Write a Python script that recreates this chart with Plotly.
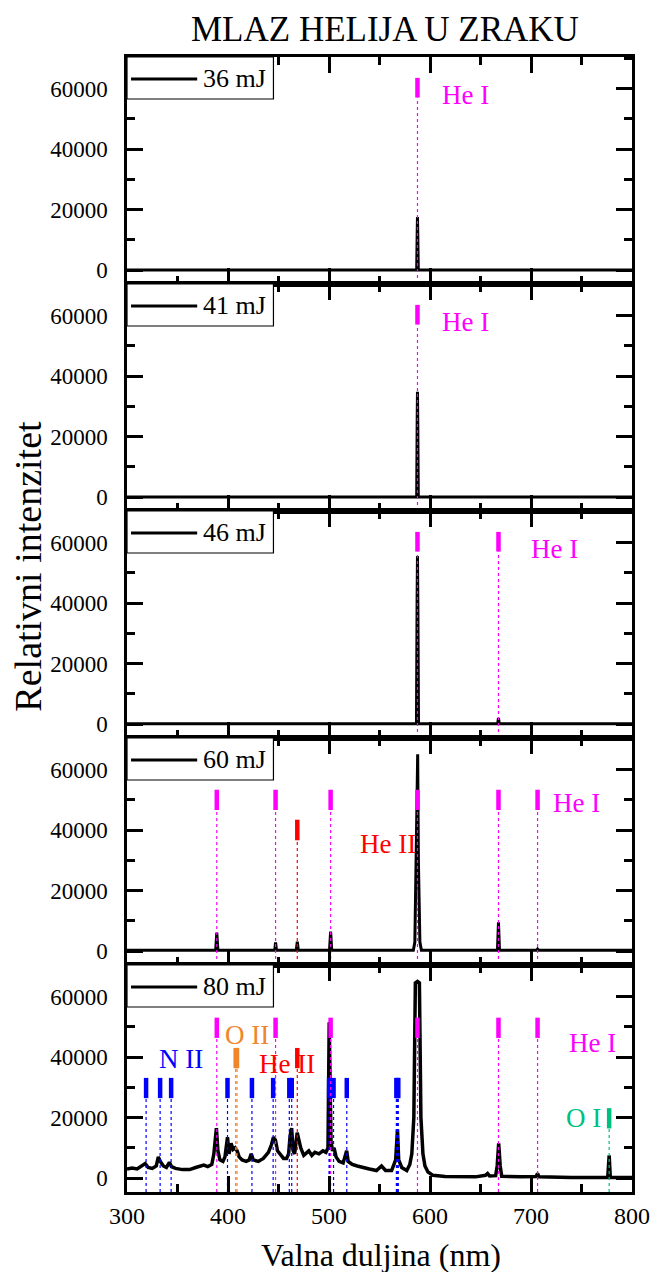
import plotly.graph_objects as go
from plotly.subplots import make_subplots

# ---------------- data ----------------
energies = ["36 mJ", "41 mJ", "46 mJ", "60 mJ", "80 mJ"]

wl_36 = [300, 400, 500, 586.8, 587.3, 587.6, 587.9, 588.4, 700, 800]
int_36 = [0, 0, 0, 0, 12000, 17500, 12000, 0, 0, 0]

wl_41 = [300, 400, 500, 586.8, 587.3, 587.6, 587.9, 588.4, 700, 800]
int_41 = [0, 0, 0, 0, 25000, 34800, 25000, 0, 0, 0]

wl_46 = [300, 400, 500, 586.6, 587.2, 587.6, 588.0, 588.6, 667.0, 667.8, 668.6, 800]
int_46 = [100, 100, 100, 100, 40000, 55500, 40000, 100, 100, 2000, 100, 100]

wl_60 = [300, 350, 387.8, 388.9, 390.0, 420, 446.3, 447.1, 448.0, 467.6, 468.6, 469.6,
         500.5, 501.6, 502.7, 550, 583.5, 585.0, 586.3, 587.2, 587.8, 588.5, 590.0, 591.5,
         640, 666.8, 667.8, 668.8, 705.5, 706.5, 707.5, 760, 800]
int_60 = [300, 300, 300, 6100, 300, 300, 300, 2900, 300, 300, 3100, 300,
          300, 6400, 300, 300, 300, 3000, 30000, 64000, 65000, 30000, 3000, 300,
          300, 300, 9500, 300, 300, 700, 300, 300, 300]

wl_80 = [300, 305, 310, 314, 318, 321, 325, 329, 331, 333, 336, 339, 342, 344, 348, 355,
         362, 368, 372, 376, 380, 384, 386, 388.5, 390, 392, 395, 397, 399.5, 401, 403,
         405, 407, 409, 411, 414, 418, 421, 423, 425, 430, 435, 440, 443, 445, 447, 449,
         452, 455, 458, 460, 461.5, 463, 464.5, 466, 468.5, 470, 472, 475, 478, 480, 483,
         486, 490, 494, 497, 499, 500.2, 501, 502, 503.5, 505, 507, 510, 514, 517.5, 519,
         523, 528, 533, 540, 547, 552, 556, 562, 566, 567.8, 569, 572, 577, 580, 582, 584,
         585.5, 587.6, 589.5, 591, 593, 595, 598, 603, 615, 630, 645, 655, 657, 659, 665,
         666.5, 668, 669.5, 671, 690, 705, 706.5, 708, 740, 770, 776, 777.4, 778.5, 790, 800]
int_80 = [3000, 3300, 3000, 3800, 4800, 3500, 3200, 4000, 7000, 5500, 4000, 3500, 5200, 3800, 3200, 2800,
          2800, 3500, 4000, 4300, 3800, 4500, 8000, 16500, 9000, 6000, 5500, 7000, 13500, 8000, 11500,
          9500, 10000, 9000, 7000, 6000, 5500, 6000, 8000, 6000, 5500, 6500, 8500, 11000, 13500, 12500, 9000,
          7500, 6500, 6500, 8000, 14000, 16500, 9000, 8000, 15000, 13000, 10000, 7500, 8500, 9000, 7500,
          8500, 8000, 9000, 8500, 10000, 51500, 30000, 12000, 9000, 10000, 7000, 5500, 5000, 9000, 5500,
          4500, 4000, 3500, 3000, 2500, 4000, 2500, 2500, 6000, 16000, 6000, 3500, 2500, 4500, 8000, 20000,
          64500, 65000, 64500, 20000, 8000, 4000, 2000, 900, 500, 400, 400, 900, 1500, 700, 800,
          4000, 11500, 4000, 600, 400, 500, 1500, 400, 200, 200, 300, 7500, 300, 200, 200]

spectra_wl = [wl_36, wl_41, wl_46, wl_60, wl_80]
spectra_int = [int_36, int_41, int_46, int_60, int_80]

he1_lines = [388.9, 447.1, 501.6, 587.6, 667.8, 706.5]
he2_lines = [468.6]
o2_lines = [407.6, 408.9]
n2_lines = [318.9, 332.8, 343.7, 399.5, 423.7, 444.7, 460.7, 463.1,
            500.1, 500.5, 501.1, 504.5, 517.6, 566.7, 567.9, 568.6]
o1_lines = [777.4]

# ---------------- styling of the line markers ----------------
MAGENTA = "#FF00FF"
RED = "#FF0000"
ORANGE = "#F0862C"
BLUE = "#0000FF"
GREEN = "#00C080"
YMIN, YMAX = -4600, 70400

# (lines, color, marker bottom, marker top) per panel
panel_markers = [
    [([587.6], MAGENTA, 57000, 63500)],
    [([587.6], MAGENTA, 57000, 63500)],
    [([587.6, 667.8], MAGENTA, 57000, 63500)],
    [(he1_lines, MAGENTA, 46600, 53300), (he2_lines, RED, 36600, 43400)],
    [(n2_lines, BLUE, 26400, 33100), (o2_lines, ORANGE, 36300, 43000),
     (he2_lines, RED, 36300, 43000), (he1_lines, MAGENTA, 46300, 53000),
     (o1_lines, GREEN, 16400, 23100)],
]

# (text, x, y, color) per panel
panel_labels = [
    [("He I", 635, 58000, MAGENTA)],
    [("He I", 635, 58000, MAGENTA)],
    [("He I", 723, 58000, MAGENTA)],
    [("He I", 745, 48800, MAGENTA), ("He II", 558, 35500, RED)],
    [("He I", 761, 44700, MAGENTA), ("He II", 458.6, 37600, RED),
     ("N II", 353.7, 39200, BLUE), ("O II", 418.6, 47300, ORANGE), ("O I", 752, 20000, GREEN)],
]

FONT = "Liberation Serif"

fig = make_subplots(rows=5, cols=1, shared_xaxes=True, vertical_spacing=0)

for i in range(5):
    row = i + 1
    fig.add_trace(go.Scatter(x=spectra_wl[i], y=spectra_int[i], mode="lines",
                             line=dict(color="black", width=3.5 if row == 5 else 3),
                             showlegend=False, hoverinfo="skip"), row=row, col=1)
    for lines, color, ybot, ytop in panel_markers[i]:
        dx, dy, mx, my = [], [], [], []
        for w in lines:
            dx += [w, w, None]
            dy += [YMIN, ybot, None]
            mx += [w, w, None]
            my += [ybot, ytop, None]
        fig.add_trace(go.Scatter(x=dx, y=dy, mode="lines",
                                 line=dict(color=color, width=1.2, dash="dot"),
                                 showlegend=False, hoverinfo="skip"), row=row, col=1)
        fig.add_trace(go.Scatter(x=mx, y=my, mode="lines",
                                 line=dict(color=color, width=4.5),
                                 showlegend=False, hoverinfo="skip"), row=row, col=1)
    xr = "x" if row == 1 else f"x{row}"
    yr = "y" if row == 1 else f"y{row}"
    for text, lx, ly, color in panel_labels[i]:
        fig.add_annotation(x=lx, y=ly, xref=xr, yref=yr, text=text, showarrow=False,
                           xanchor="center", yanchor="middle",
                           font=dict(family=FONT, size=27, color=color))
    # legend box
    fig.add_shape(type="rect", xref=f"{xr} domain", yref=f"{yr} domain",
                  x0=0, x1=0.29, y0=0.815, y1=1.0,
                  line=dict(color="black", width=1.2), fillcolor="white", layer="above")
    fig.add_shape(type="line", xref=f"{xr} domain", yref=f"{yr} domain",
                  x0=0.008, x1=0.139, y0=0.903, y1=0.903,
                  line=dict(color="black", width=3), layer="above")
    fig.add_annotation(xref=f"{xr} domain", yref=f"{yr} domain", x=0.279, y=0.905,
                       xanchor="right", yanchor="middle", text=energies[i], showarrow=False,
                       font=dict(family=FONT, size=26, color="black"))

    fig.update_yaxes(range=[YMIN, YMAX], tickvals=[0, 20000, 40000, 60000], tickformat="d",
                     ticks="inside", ticklen=16, tickwidth=3, tickcolor="black",
                     minor=dict(ticks="inside", ticklen=8, tickwidth=3, dtick=10000,
                                tick0=0, tickcolor="black", showgrid=False),
                     showline=True, linewidth=2.5, linecolor="black", mirror="allticks",
                     showgrid=False, zeroline=False, ticklabelstandoff=12, automargin=False,
                     tickfont=dict(family=FONT, size=23, color="black"),
                     row=row, col=1)
    fig.update_xaxes(range=[300, 800], dtick=100, tick0=300,
                     ticks="inside", ticklen=16, tickwidth=3, tickcolor="black",
                     minor=dict(ticks="inside", ticklen=8, tickwidth=3, dtick=50,
                                tick0=300, tickcolor="black", showgrid=False),
                     showline=True, linewidth=2.5, linecolor="black", mirror="allticks",
                     showgrid=False, zeroline=False, showticklabels=(row == 5),
                     ticklabelstandoff=0, automargin=False,
                     tickfont=dict(family=FONT, size=24, color="black"),
                     row=row, col=1)

fig.add_annotation(xref="paper", yref="paper", x=0.503, y=-0.0555, text="Valna duljina (nm)",
                   xanchor="center", yanchor="middle",
                   showarrow=False, font=dict(family=FONT, size=32, color="black"))
fig.add_annotation(xref="paper", yref="paper", x=-0.196, y=0.551, text="Relativni intenzitet",
                   xanchor="center", yanchor="middle",
                   textangle=-90, showarrow=False, font=dict(family=FONT, size=38, color="black"))
fig.add_annotation(xref="paper", yref="paper", x=0.511, y=1.0 + 49 / 1135,
                   xanchor="center", yanchor="top",
                   text="MLAZ HELIJA U ZRAKU", showarrow=False,
                   font=dict(family=FONT, size=35, color="black"))

# the page body has an 8px margin on every side: the figure fills the window inside it
fig.update_layout(width=643, height=1264, margin=dict(l=119, r=19, t=49, b=80),
                  paper_bgcolor="white", plot_bgcolor="white", showlegend=False)

fig.write_html("out.html")
